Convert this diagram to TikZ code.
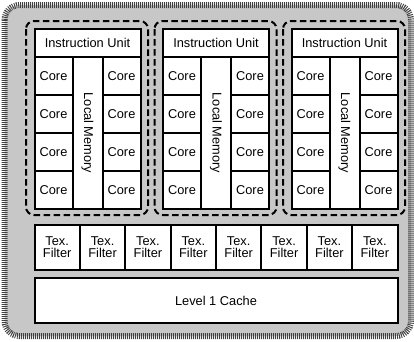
\documentclass[tikz,border=0pt]{standalone}
\usepackage{fontspec}
\usepackage{graphicx}
\setmainfont{Liberation Sans}
\begin{document}
\begin{tikzpicture}[x=1pt,y=-1pt,
  unit/.style={draw=black, line width=2pt, fill=white, inner sep=0pt,
    font=\fontsize{12.8}{12}\selectfont, align=center},
  corebox/.style={unit, minimum width=38pt, minimum height=38pt},
  dashbox/.style={draw=black, line width=2pt, dash pattern=on 6.5pt off 3.5pt, rounded corners=8pt},
  outerfill/.style={fill=black!22, rounded corners=15pt},
  hatch/.style={draw=black!75, line width=6pt, dash pattern=on 0.9pt off 1.1pt, rounded corners=15pt}]
\useasboundingbox (0,0) rectangle (414,341);
\fill[outerfill] (4.5,5) rectangle (411,336);
\draw[hatch] (4.5,5) rectangle (411,336);
\foreach \b in {0,1,2} {
  \pgfmathsetmacro\xo{34.5+128.5*\b}
  \draw[dashbox] ({\xo-8.5},21) rectangle ({\xo+113.5},215);
  \node[unit, minimum width=106pt, minimum height=28pt] (iu\b) at ({\xo+53},43) {Instruction Unit};
  \foreach \r in {0,...,3} {
    \node[corebox] (cl\b\r) at ({\xo+19},{76+38*\r}) {Core};
    \node[corebox] (cr\b\r) at ({\xo+87},{76+38*\r}) {Core};
  }
  \node[unit, minimum width=30pt, minimum height=152pt] (lm\b) at ({\xo+53},133) {\rotatebox{-90}{Local Memory}};
  \draw[line width=2pt] ({\xo},29) rectangle ({\xo+106},209);
}
\foreach \i in {0,...,7} {
  \node[unit, minimum width=45.375pt, minimum height=44.5pt] (tf\i) at ({34.5+45.375*\i+22.6875},247.25) {Tex.\\Filter};
}
\node[unit, minimum width=363pt, minimum height=45pt] (l1) at (216,300.5) {Level 1 Cache};
\end{tikzpicture}
\end{document}
